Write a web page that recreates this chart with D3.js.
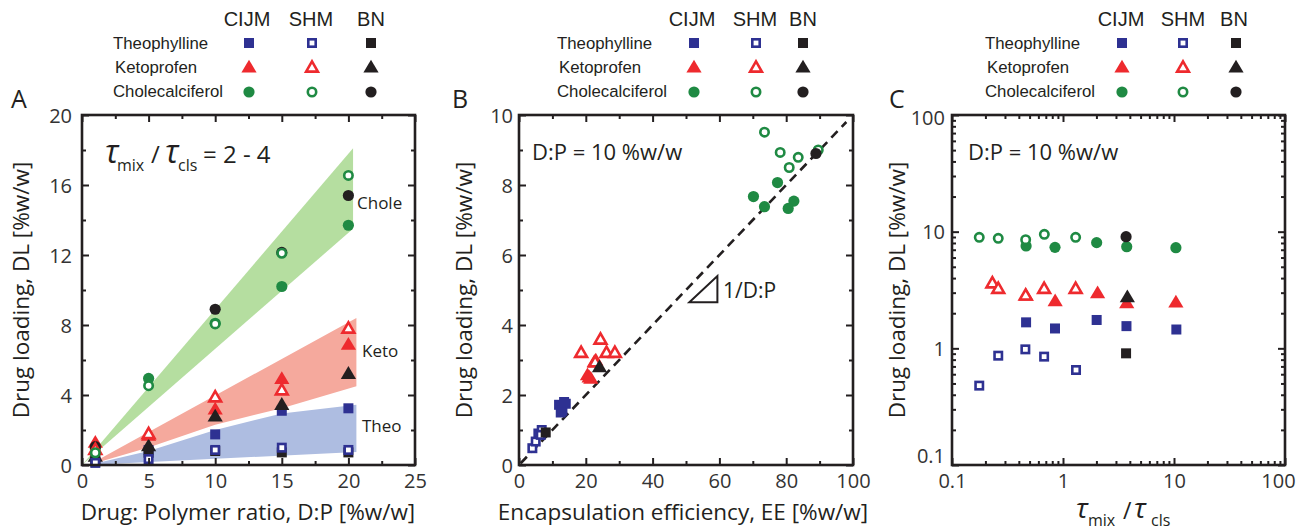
<!DOCTYPE html>
<html>
<head>
<meta charset="utf-8">
<script src="https://cdn.jsdelivr.net/npm/d3@7"></script>
<style>
  body { margin: 0; background: #fff; }
  svg { display: block; }
</style>
</head>
<body>
<svg id="fig" width="1300" height="531"></svg>
<script>
// ---------- Panel A: drug loading vs drug:polymer ratio ----------
const dpRatio    = [1, 5, 10, 15, 20];
const theoCijmA  = [0.2, 0.85, 1.75, 3.1, 3.24];
const theoShmA   = [0.12, 0.34, 0.86, 0.99, 0.86];
const theoBnA    = [0.3, 0.7, 0.8, 0.72, 0.72];
const ketoCijmA  = [1.3, 1.7, 3.2, 4.95, 6.9];
const ketoShmA   = [0.9, 1.8, 3.9, 4.3, 7.83];
const ketoBnA    = [0.5, 1.1, 2.8, 3.47, 5.24];
const choleCijmA = [0.95, 4.95, 8.1, 10.2, 13.7];
const choleShmA  = [0.7, 4.53, 8.06, 12.1, 16.55];
const choleBnA   = [1.05, null, 8.9, 12.15, 15.4];

// shaded ranges: [D:P, DL] vertices of the upper and lower edges
const choleBandUpper = [[0, 0], [20.35, 18.1]];
const choleBandLower = [[0, 0], [20.35, 13.5]];
const ketoBandUpper  = [[0.5, 0], [20.6, 8.4]];
const ketoBandLower  = [[0.5, 0], [5, 1.0], [10, 2.3], [15, 3.25], [20.6, 4.5]];
const theoBandUpper  = [[0.5, 0], [5, 0.8], [10, 2.0], [15, 2.95], [20.6, 3.45]];
const theoBandLower  = [[0.5, 0], [20.6, 0.75]];

// ---------- Panel B: drug loading vs encapsulation efficiency ----------
const eeTheoCijm  = [12, 13, 14, 13.5, 12.5];
const dlTheoCijm  = [1.72, 1.55, 1.75, 1.8, 1.5];
const eeTheoShm   = [4.0, 5.0, 5.8, 6.8, 6.5];
const dlTheoShm   = [0.48, 0.67, 0.9, 1.0, 0.86];
const eeTheoBn    = [8.0];
const dlTheoBn    = [0.93];
const eeKetoCijm  = [22.5, 20.5, 23.0, 21.5, 21.0];
const dlKetoCijm  = [2.95, 2.58, 3.0, 2.48, 2.52];
const eeKetoShm   = [18.6, 24.4, 26.2, 28.7, 22.8];
const dlKetoShm   = [3.22, 3.6, 3.22, 3.22, 2.95];
const eeKetoBn    = [24.1];
const dlKetoBn    = [2.81];
const eeCholeCijm = [70.2, 73.5, 77.4, 82.3, 80.6];
const dlCholeCijm = [7.67, 7.38, 8.07, 7.54, 7.33];
const eeCholeShm  = [73.5, 78.2, 83.6, 80.9, 89.6];
const dlCholeShm  = [9.51, 8.93, 8.79, 8.5, 9.0];
const eeCholeBn   = [88.9];
const dlCholeBn   = [8.9];
// DL = EE x (D:P) guide line and slope marker
const guideEE  = [0.5, 98];
const guideDL  = [0.05, 9.8];
const slopeEE  = [51, 59.4, 59.4];
const slopeDL  = [4.65, 4.65, 5.4];

// ---------- Panel C: drug loading vs mixing / clustering time ratio ----------
const tauTheoCijm  = [0.465, 0.847, 2.01, 3.73, 10.5];
const dlTheoCijmC  = [1.67, 1.48, 1.75, 1.55, 1.45];
const tauTheoShm   = [0.176, 0.261, 0.458, 0.676, 1.31];
const dlTheoShmC   = [0.479, 0.865, 0.98, 0.849, 0.652];
const tauTheoBn    = [3.7];
const dlTheoBnC    = [0.906];
const tauKetoCijm  = [0.465, 0.85, 2.05, 3.75, 10.4];
const dlKetoCijmC  = [2.85, 2.56, 3.0, 2.46, 2.5];
const tauKetoShm   = [0.231, 0.261, 0.461, 0.676, 1.30];
const dlKetoShmC   = [3.65, 3.27, 2.87, 3.27, 3.27];
const tauKetoBn    = [3.8];
const dlKetoBnC    = [2.77];
const tauCholeCijm = [0.465, 0.847, 2.01, 3.75, 10.4];
const dlCholeCijmC = [7.54, 7.34, 8.05, 7.43, 7.29];
const tauCholeShm  = [0.176, 0.261, 0.461, 0.679, 1.30];
const dlCholeShmC  = [8.94, 8.77, 8.54, 9.48, 8.94];
const tauCholeBn   = [3.7];
const dlCholeBnC   = [9.06];

// ---------- legend / axis text ----------
const drugNames   = ["Theophylline", "Ketoprofen", "Cholecalciferol"];
const methodNames = ["CIJM", "SHM", "BN"];
const ticksA = { x: [0, 5, 10, 15, 20, 25], xm: [2.5, 7.5, 12.5, 17.5, 22.5], y: [0, 4, 8, 12, 16, 20], ym: [2, 6, 10, 14, 18] };
const ticksB = { x: [0, 20, 40, 60, 80, 100], xm: [10, 30, 50, 70, 90], y: [0, 2, 4, 6, 8, 10], ym: [1, 3, 5, 7, 9] };
const decades = [0.1, 1, 10, 100];

// ---------- styling ----------
const INK = "#231f20";
const COL = { theo: "#2e3192", keto: "#ee2a2e", chole: "#1f8a43", bn: "#231f20" };
const SHAPE = { theo: "square", keto: "triangle", chole: "circle" };
const FONT = "'Open Sans', 'Noto Sans', sans-serif";
const LEGFONT = "'Liberation Sans', Arial, sans-serif";
const TOP = 115, BOTTOM = 465;

const svg = d3.select("#fig");

function marker(g, shape, color, open, x, y) {
  const sw = 2.6;
  if (shape === "square") {
    const s = open ? 7.4 : 10;
    g.append("rect").attr("x", x - s / 2).attr("y", y - s / 2).attr("width", s).attr("height", s)
      .attr("fill", open ? "#fff" : color).attr("stroke", open ? color : "none").attr("stroke-width", sw);
  } else if (shape === "circle") {
    g.append("circle").attr("cx", x).attr("cy", y).attr("r", open ? 4.2 : 5.6)
      .attr("fill", open ? "#fff" : color).attr("stroke", open ? color : "none").attr("stroke-width", sw);
  } else {
    const w = open ? 5.9 : 7.6, t = open ? 5.6 : 7.2, b = open ? 4.6 : 5.6;
    g.append("path").attr("d", `M${x},${y - t}L${x + w},${y + b}L${x - w},${y + b}Z`)
      .attr("fill", open ? "#fff" : color).attr("stroke", open ? color : "none")
      .attr("stroke-width", sw).attr("stroke-linejoin", "miter");
  }
}

function scatter(g, xs, ys, xScale, yScale, shape, color, open) {
  xs.forEach((xv, i) => {
    const yv = ys[i];
    if (yv == null || xv == null) return;
    marker(g, shape, color, open, xScale(xv), yScale(yv));
  });
}

function legend(cfg) {
  const g = svg.append("g");
  methodNames.forEach((m, i) => {
    g.append("text").attr("x", cfg.head[i]).attr("y", 26).attr("text-anchor", "middle")
      .attr("font-family", LEGFONT).attr("font-size", 20).attr("fill", INK).text(m);
  });
  const rowsY = [43, 67, 92], baseY = [49, 73, 97];
  const keys = ["theo", "keto", "chole"];
  drugNames.forEach((d, r) => {
    g.append("text").attr("x", cfg.label[r]).attr("y", baseY[r])
      .attr("font-family", LEGFONT).attr("font-size", 16.8).attr("fill", INK).text(d);
    const k = keys[r];
    marker(g, SHAPE[k], COL[k], false, cfg.mark[0], rowsY[r]);
    marker(g, SHAPE[k], COL[k], true, cfg.mark[1], rowsY[r]);
    marker(g, SHAPE[k], COL.bn, false, cfg.mark[2], rowsY[r]);
  });
}

function frameAndAxes(x, y, t, opts) {
  const g = svg.append("g");
  const left = x.range()[0], right = x.range()[1];
  const mk = (axis, pos, vals, len, labels) => {
    const a = axis.tickValues(vals).tickSize(-len);
    if (!labels) a.tickFormat("");
    else a.tickFormat(opts.fmt || (d => d));
    const ax = g.append("g").attr("transform", pos).call(a);
    ax.select(".domain").remove();
    ax.selectAll("line").attr("stroke", INK).attr("stroke-width", 2);
    return ax;
  };
  const xb = mk(d3.axisBottom(x), `translate(0,${BOTTOM})`, t.x, 7, true);
  xb.selectAll("text").attr("y", 23).attr("dy", 0).attr("font-family", FONT)
    .attr("font-size", 20).attr("fill", "#333")
    .attr("dx", d => (opts.xShift && opts.xShift[d]) || 0);
  mk(d3.axisBottom(x), `translate(0,${BOTTOM})`, t.xm, 4, false);
  mk(d3.axisTop(x), `translate(0,${TOP})`, t.x, 7, false);
  mk(d3.axisTop(x), `translate(0,${TOP})`, t.xm, 4, false);
  const yl = mk(d3.axisLeft(y), `translate(${left},0)`, t.y, 7, true);
  yl.selectAll("text").attr("x", -opts.ypad).attr("dy", "0.36em").attr("font-family", FONT)
    .attr("font-size", 20).attr("fill", "#333")
    .attr("y", d => (opts.yShift && opts.yShift[d]) || 0);
  mk(d3.axisLeft(y), `translate(${left},0)`, t.ym, 4, false);
  mk(d3.axisRight(y), `translate(${right},0)`, t.y, 7, false);
  mk(d3.axisRight(y), `translate(${right},0)`, t.ym, 4, false);
  g.selectAll("text").attr("stroke", "none");
  g.append("rect").attr("x", left).attr("y", TOP).attr("width", right - left).attr("height", BOTTOM - TOP)
    .attr("fill", "none").attr("stroke", INK).attr("stroke-width", 2.6);
}

function yTitle(cx) {
  svg.append("text").attr("transform", `translate(${cx},290) rotate(-90)`).attr("text-anchor", "middle")
    .attr("font-family", FONT).attr("font-size", 22.5).attr("fill", INK).text("Drug loading, DL [%w/w]");
}

function panelLetter(x, s) {
  svg.append("text").attr("x", x).attr("y", 108).attr("font-family", FONT)
    .attr("font-size", 25).attr("fill", INK).text(s);
}

function tauText(parts) {
  parts.forEach(p => {
    svg.append("text").attr("x", p.x).attr("y", p.y).attr("font-family", FONT)
      .attr("font-size", p.fs).attr("font-style", p.it ? "italic" : "normal")
      .attr("fill", INK).text(p.s);
  });
}

// ================= Panel A =================
{
  const x = d3.scaleLinear().domain([0, 25]).range([82, 415]);
  const y = d3.scaleLinear().domain([0, 20]).range([BOTTOM, TOP]);
  const band = (upper, lower, fill) => {
    const pts = upper.concat(lower.slice().reverse());
    svg.append("path").attr("d", d3.line().x(d => x(d[0])).y(d => y(d[1]))(pts) + "Z").attr("fill", fill);
  };
  band(choleBandUpper, choleBandLower, "#b5dea0");
  band(ketoBandUpper, ketoBandLower, "#f5a99d");
  band(theoBandUpper, theoBandLower, "#aebde1");

  const g = svg.append("g");
  scatter(g, dpRatio, theoCijmA, x, y, "square", COL.theo, false);
  scatter(g, dpRatio, ketoCijmA, x, y, "triangle", COL.keto, false);
  scatter(g, dpRatio, choleCijmA, x, y, "circle", COL.chole, false);
  scatter(g, dpRatio, theoBnA, x, y, "square", COL.bn, false);
  scatter(g, dpRatio, ketoBnA, x, y, "triangle", COL.bn, false);
  scatter(g, dpRatio, choleBnA, x, y, "circle", COL.bn, false);
  scatter(g, dpRatio, theoShmA, x, y, "square", COL.theo, true);
  scatter(g, dpRatio, ketoShmA, x, y, "triangle", COL.keto, true);
  scatter(g, dpRatio, choleShmA, x, y, "circle", COL.chole, true);

  frameAndAxes(x, y, ticksA, { ypad: 10 });

  [["Chole", 357, 209], ["Keto", 362, 357], ["Theo", 362, 432]].forEach(([s, lx, ly]) => {
    svg.append("text").attr("x", lx).attr("y", ly).attr("font-family", FONT)
      .attr("font-size", 17).attr("fill", INK).text(s);
  });

  tauText([
    { s: "τ", x: 105, y: 163, fs: 32, it: true },
    { s: "mix", x: 117, y: 171, fs: 16 },
    { s: "/", x: 151, y: 163, fs: 24 },
    { s: "τ", x: 165, y: 163, fs: 32, it: true },
    { s: "cls", x: 178, y: 171, fs: 16 },
    { s: "= 2 - 4", x: 203, y: 163, fs: 24 }
  ]);

  svg.append("text").attr("x", 248).attr("y", 520).attr("text-anchor", "middle").attr("font-family", FONT)
    .attr("font-size", 22.5).attr("fill", INK).text("Drug: Polymer ratio, D:P [%w/w]");
  yTitle(29);
  panelLetter(11, "A");
  legend({ head: [247, 311, 371], label: [113, 115, 113], mark: [249, 312, 371] });
}

// ================= Panel B =================
{
  const x = d3.scaleLinear().domain([0, 100]).range([519, 853]);
  const y = d3.scaleLinear().domain([0, 10]).range([BOTTOM, TOP]);

  svg.append("line").attr("x1", x(guideEE[0])).attr("y1", y(guideDL[0]))
    .attr("x2", x(guideEE[1])).attr("y2", y(guideDL[1]))
    .attr("stroke", INK).attr("stroke-width", 2.6).attr("stroke-dasharray", "9,6");
  svg.append("path")
    .attr("d", d3.line().x((d, i) => x(slopeEE[i])).y((d, i) => y(slopeDL[i]))(slopeEE) + "Z")
    .attr("fill", "none").attr("stroke", INK).attr("stroke-width", 2);
  svg.append("text").attr("x", 723).attr("y", 298).attr("font-family", FONT)
    .attr("font-size", 21).attr("fill", INK).text("1/D:P");

  const g = svg.append("g");
  scatter(g, eeTheoCijm, dlTheoCijm, x, y, "square", COL.theo, false);
  scatter(g, eeKetoCijm, dlKetoCijm, x, y, "triangle", COL.keto, false);
  scatter(g, eeCholeCijm, dlCholeCijm, x, y, "circle", COL.chole, false);
  scatter(g, eeTheoShm, dlTheoShm, x, y, "square", COL.theo, true);
  scatter(g, eeKetoShm, dlKetoShm, x, y, "triangle", COL.keto, true);
  scatter(g, eeCholeShm, dlCholeShm, x, y, "circle", COL.chole, true);
  scatter(g, eeTheoBn, dlTheoBn, x, y, "square", COL.bn, false);
  scatter(g, eeKetoBn, dlKetoBn, x, y, "triangle", COL.bn, false);
  scatter(g, eeCholeBn, dlCholeBn, x, y, "circle", COL.bn, false);

  frameAndAxes(x, y, ticksB, { ypad: 6 });

  svg.append("text").attr("x", 532).attr("y", 160).attr("font-family", FONT)
    .attr("font-size", 22).attr("fill", INK).text("D:P = 10 %w/w");
  svg.append("text").attr("x", 683).attr("y", 520).attr("text-anchor", "middle").attr("font-family", FONT)
    .attr("font-size", 22.5).attr("fill", INK).text("Encapsulation efficiency, EE [%w/w]");
  yTitle(472);
  panelLetter(452, "B");
  legend({ head: [692, 755, 803], label: [557, 559, 557], mark: [694, 756, 803] });
}

// ================= Panel C =================
{
  const x = d3.scaleLog().domain([0.1, 100]).range([952, 1285]);
  const y = d3.scaleLog().domain([0.1, 100]).range([BOTTOM, TOP]);
  const minor = [];
  [0.1, 1, 10].forEach(d => { for (let k = 2; k <= 9; k++) minor.push(+(d * k).toPrecision(3)); });

  const g = svg.append("g");
  scatter(g, tauTheoCijm, dlTheoCijmC, x, y, "square", COL.theo, false);
  scatter(g, tauKetoCijm, dlKetoCijmC, x, y, "triangle", COL.keto, false);
  scatter(g, tauCholeCijm, dlCholeCijmC, x, y, "circle", COL.chole, false);
  scatter(g, tauTheoShm, dlTheoShmC, x, y, "square", COL.theo, true);
  scatter(g, tauKetoShm, dlKetoShmC, x, y, "triangle", COL.keto, true);
  scatter(g, tauCholeShm, dlCholeShmC, x, y, "circle", COL.chole, true);
  scatter(g, tauTheoBn, dlTheoBnC, x, y, "square", COL.bn, false);
  scatter(g, tauKetoBn, dlKetoBnC, x, y, "triangle", COL.bn, false);
  scatter(g, tauCholeBn, dlCholeBnC, x, y, "circle", COL.bn, false);

  frameAndAxes(x, y, { x: decades, xm: minor, y: decades, ym: minor },
    { ypad: 7, fmt: d => String(d), xShift: { 100: -7 }, yShift: { 0.1: -10, 100: 2 } });

  svg.append("text").attr("x", 968).attr("y", 160).attr("font-family", FONT)
    .attr("font-size", 22).attr("fill", INK).text("D:P = 10 %w/w");
  tauText([
    { s: "τ", x: 1076, y: 518, fs: 28, it: true },
    { s: "mix", x: 1088, y: 526, fs: 16 },
    { s: "/", x: 1123, y: 519, fs: 23 },
    { s: "τ", x: 1134, y: 518, fs: 28, it: true },
    { s: "cls", x: 1151, y: 526, fs: 16 }
  ]);
  yTitle(905);
  panelLetter(889, "C");
  legend({ head: [1121, 1183, 1234], label: [985, 987, 985], mark: [1122, 1183, 1236] });
}
</script>
</body>
</html>
